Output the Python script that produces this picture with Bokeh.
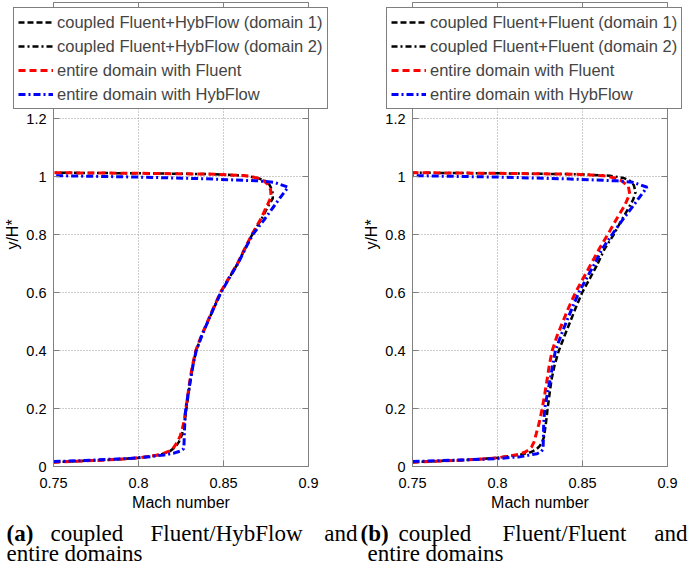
import math
from bokeh.plotting import figure
from bokeh.models import Legend, LegendItem, FixedTicker, Range1d, LinearAxis, Label
from bokeh.layouts import row
from bokeh.embed import file_html
from bokeh.resources import INLINE

# ---------------- data ----------------
x_ticks = [0.75, 0.8, 0.85, 0.9]
x_tick_labels = ["0.75", "0.8", "0.85", "0.9"]
y_ticks = [0, 0.2, 0.4, 0.6, 0.8, 1.0, 1.2, 1.4]
y_tick_labels = ["0", "0.2", "0.4", "0.6", "0.8", "1", "1.2", "1.4"]
x_label = "Mach number"
y_label = "y/H*"

# panel (a)
a_dom1_y = [0.015, 0.018, 0.021, 0.025, 0.030, 0.036, 0.043, 0.053, 0.066, 0.084, 0.105, 0.13, 0.16, 0.20,
            0.25, 0.30, 0.35, 0.40, 0.45, 0.50, 0.55, 0.60, 0.65, 0.70]
a_dom1_x = [0.750, 0.762, 0.776, 0.789, 0.800, 0.808, 0.814, 0.8185, 0.8215, 0.8237, 0.8253, 0.8264, 0.8273, 0.8282,
            0.8294, 0.8306, 0.8320, 0.8339, 0.8371, 0.8408, 0.8446, 0.8484, 0.8533, 0.8584]
a_dom2_y = [0.70, 0.75, 0.80, 0.85, 0.90, 0.925, 0.95, 0.97, 0.985, 0.995, 1.003, 1.008, 1.011, 1.013]
a_dom2_x = [0.8584, 0.8626, 0.8669, 0.8720, 0.8765, 0.8790, 0.8788, 0.8772, 0.8745, 0.870, 0.862, 0.845, 0.80, 0.75]
a_flu_y = [0.015, 0.018, 0.021, 0.025, 0.030, 0.036, 0.043, 0.053, 0.066, 0.084, 0.105, 0.13, 0.16, 0.20,
           0.25, 0.30, 0.35, 0.40, 0.45, 0.50, 0.55, 0.60, 0.65, 0.70, 0.75, 0.80, 0.85, 0.90, 0.93, 0.955,
           0.975, 0.99, 1.002, 1.008, 1.011, 1.013]
a_flu_x = [0.750, 0.762, 0.776, 0.789, 0.800, 0.808, 0.814, 0.818, 0.8208, 0.8228, 0.8245, 0.8258, 0.8269, 0.8279,
           0.8291, 0.8303, 0.8318, 0.8337, 0.8369, 0.8406, 0.8443, 0.8482, 0.8531, 0.8582, 0.8624, 0.8667, 0.8716,
           0.8757, 0.8780, 0.8777, 0.8758, 0.8725, 0.865, 0.845, 0.80, 0.75]
a_hyb_y = [0.017, 0.020, 0.024, 0.028, 0.034, 0.040, 0.046, 0.053, 0.061, 0.08, 0.12, 0.16, 0.20, 0.25, 0.30,
           0.35, 0.40, 0.45, 0.50, 0.55, 0.60, 0.65, 0.70, 0.75, 0.80, 0.85, 0.90, 0.93, 0.963, 0.980, 0.985,
           0.992, 0.998, 1.003]
a_hyb_x = [0.750, 0.765, 0.780, 0.795, 0.807, 0.815, 0.8208, 0.8245, 0.8265, 0.8268, 0.8270, 0.8273, 0.8278,
           0.8292, 0.8306, 0.8321, 0.8340, 0.8372, 0.8408, 0.8446, 0.8485, 0.8534, 0.8585, 0.8627, 0.8672, 0.8738,
           0.8800, 0.8837, 0.8880, 0.8796, 0.870, 0.840, 0.800, 0.750]

# panel (b)
b_dom1_y = [0.015, 0.018, 0.021, 0.025, 0.030, 0.036, 0.041, 0.049, 0.058, 0.067, 0.08, 0.101, 0.15, 0.20,
            0.25, 0.30, 0.35, 0.40, 0.45, 0.50, 0.55, 0.60, 0.65, 0.70]
b_dom1_x = [0.750, 0.762, 0.776, 0.789, 0.800, 0.807, 0.8135, 0.8194, 0.8225, 0.8243, 0.8260, 0.8273, 0.8285,
            0.8295, 0.8306, 0.8318, 0.8336, 0.8361, 0.8394, 0.8428, 0.8462, 0.8498, 0.8545, 0.8590]
b_dom2_y = [0.70, 0.75, 0.80, 0.85, 0.883, 0.92, 0.946, 0.970, 0.985, 0.995, 1.003, 1.008, 1.011, 1.013]
b_dom2_x = [0.8590, 0.8630, 0.8684, 0.8730, 0.8763, 0.8798, 0.8812, 0.8802, 0.8780, 0.874, 0.866, 0.845, 0.80, 0.75]
b_flu_y = [0.015, 0.018, 0.021, 0.025, 0.030, 0.036, 0.042, 0.049, 0.058, 0.067, 0.085, 0.113, 0.15, 0.20,
           0.25, 0.30, 0.35, 0.40, 0.45, 0.50, 0.55, 0.60, 0.65, 0.70, 0.75, 0.80, 0.85, 0.90, 0.94, 0.965,
           0.984, 0.995, 1.003, 1.008, 1.011, 1.013]
b_flu_x = [0.750, 0.762, 0.776, 0.789, 0.800, 0.807, 0.8125, 0.8160, 0.8185, 0.8200, 0.8215, 0.8228, 0.8245,
           0.8263, 0.8278, 0.8292, 0.8305, 0.8322, 0.8350, 0.8385, 0.8420, 0.8459, 0.8505, 0.8552, 0.8598, 0.8649,
           0.8697, 0.8748, 0.8778, 0.8770, 0.8733, 0.869, 0.862, 0.845, 0.80, 0.75]
b_hyb_y = [0.017, 0.020, 0.023, 0.027, 0.034, 0.044, 0.052, 0.060, 0.10, 0.15, 0.20, 0.25, 0.30, 0.35, 0.40,
           0.45, 0.50, 0.55, 0.60, 0.65, 0.70, 0.75, 0.80, 0.85, 0.90, 0.93, 0.963, 0.980, 0.985, 0.992, 0.998, 1.003]
b_hyb_x = [0.750, 0.765, 0.782, 0.800, 0.8135, 0.8233, 0.8258, 0.8268, 0.8270, 0.8272, 0.8278, 0.8293, 0.8310,
           0.8325, 0.8341, 0.8372, 0.8406, 0.8442, 0.8478, 0.8525, 0.8572, 0.8616, 0.8674, 0.8735, 0.8800, 0.8837,
           0.8880, 0.8796, 0.870, 0.840, 0.800, 0.750]

a_labels = ["coupled Fluent+HybFlow (domain 1)", "coupled Fluent+HybFlow (domain 2)",
            "entire domain with Fluent", "entire domain with HybFlow"]
b_labels = ["coupled Fluent+Fluent (domain 1)", "coupled Fluent+Fluent (domain 2)",
            "entire domain with Fluent", "entire domain with HybFlow"]
a_caption1 = ["(a)", "coupled", "Fluent/HybFlow", "and"]
b_caption1 = ["(b)", "coupled", "Fluent/Fluent", "and"]
caption2 = "entire domains"

# ---------------- layout constants (page pixels; Bokeh's page has no body margin) ----------------
FIG_H = 568
PAGE_TOP = 0
FRAME_BOTTOM = 466
PX_PER_X = 1700.0
PX_PER_Y = 290.0
X_MIN, X_MAX = 0.75, 0.9
Y_TOP = 1.6
AX_COL = "#808080"
SANS = "Liberation Sans"
SERIF = "Liberation Serif"
CAP1_BASE = 533
CAP2_BASE = 553

styles = [
    dict(line_color="black", line_width=2.5, line_dash="6 3"),
    dict(line_color="black", line_width=2.5, line_dash="6 3 2 3"),
    dict(line_color="#ff0000", line_width=3, line_dash="7 4"),
    dict(line_color="#0000ff", line_width=3, line_dash="7 3 2 3"),
]


def make_panel(fig_left, width, axis_left, series, labels, legend_left, cap_words, cap_pos, cap2_x):
    bottom = PAGE_TOP + FIG_H
    y_start = -(bottom - FRAME_BOTTOM) / PX_PER_Y
    y_end = (FRAME_BOTTOM - PAGE_TOP) / PX_PER_Y
    x_start = X_MIN - (axis_left - fig_left) / PX_PER_X
    x_end = x_start + width / PX_PER_X
    p = figure(width=width, height=FIG_H, x_range=Range1d(x_start, x_end), y_range=Range1d(y_start, y_end),
               output_backend="svg", toolbar_location=None,
               min_border_left=0, min_border_right=0, min_border_top=0, min_border_bottom=0)
    p.outline_line_color = None
    p.background_fill_color = "white"
    p.border_fill_color = "white"

    xa = p.xaxis[0]
    ya = p.yaxis[0]
    xt = FixedTicker(ticks=x_ticks)
    yt = FixedTicker(ticks=y_ticks)
    xa.ticker = xt
    ya.ticker = yt
    xa.fixed_location = 0
    ya.fixed_location = X_MIN
    xa.bounds = (X_MIN, X_MAX)
    ya.bounds = (0, Y_TOP)
    xa.major_label_overrides = dict(zip(x_ticks, x_tick_labels))
    ya.major_label_overrides = dict(zip(y_ticks, y_tick_labels))
    for ax in (xa, ya):
        ax.major_tick_in = 6
        ax.major_tick_out = 0
        ax.minor_tick_line_color = None
        ax.axis_line_color = AX_COL
        ax.major_tick_line_color = AX_COL
        ax.major_label_text_font = SANS
        ax.major_label_text_font_size = "14.5px"
        ax.major_label_text_color = "black"
        ax.axis_label_text_font = SANS
        ax.axis_label_text_font_size = "16px"
        ax.axis_label_text_font_style = "normal"
        ax.axis_label_text_color = "black"
    xa.axis_label = x_label
    ya.axis_label = y_label
    xa.major_label_standoff = 11
    xa.axis_label_standoff = 3
    ya.major_label_standoff = 7
    ya.axis_label_standoff = 2

    # frame lines on the right and top
    p.add_layout(LinearAxis(ticker=FixedTicker(ticks=[]), fixed_location=X_MAX, bounds=(0, Y_TOP),
                            axis_line_color=AX_COL, minor_tick_line_color=None), "right")
    p.add_layout(LinearAxis(ticker=FixedTicker(ticks=[]), fixed_location=Y_TOP, bounds=(X_MIN, X_MAX),
                            axis_line_color=AX_COL, minor_tick_line_color=None), "above")

    p.xgrid[0].ticker = xt
    p.ygrid[0].ticker = yt
    p.xgrid[0].bounds = (X_MIN, X_MAX)
    p.ygrid[0].bounds = (0, Y_TOP)
    p.xgrid[0].cross_bounds = (0, Y_TOP)
    p.ygrid[0].cross_bounds = (X_MIN, X_MAX)
    for g in (p.xgrid[0], p.ygrid[0]):
        g.grid_line_color = "#9a9a9a"
        g.grid_line_dash = "1 2"
        g.grid_line_width = 1

    # inward ticks on the right and top edges
    p.ray(x=[X_MAX] * len(y_ticks), y=y_ticks, length=6, length_units="screen",
          angle=math.pi, line_color=AX_COL, line_width=1)
    p.ray(x=x_ticks, y=[Y_TOP] * len(x_ticks), length=6, length_units="screen",
          angle=-math.pi / 2, line_color=AX_COL, line_width=1)

    rends = []
    for (xs, ys), st in zip(series, styles):
        rends.append(p.line(xs, ys, **st))

    leg = Legend(items=[LegendItem(label=l, renderers=[r]) for l, r in zip(labels, rends)],
                 orientation="vertical",
                 location=(legend_left - fig_left, bottom - 109),
                 border_line_color="black", border_line_width=1,
                 background_fill_color="white", background_fill_alpha=1,
                 label_text_font=SANS, label_text_font_size="16.5px",
                 label_height=20, glyph_height=20, glyph_width=35,
                 label_standoff=4, padding=4, spacing=4, margin=0)
    p.add_layout(leg)

    for i, (w, xpos) in enumerate(zip(cap_words, cap_pos)):
        p.add_layout(Label(x=xpos - fig_left, y=bottom - CAP1_BASE, x_units="screen", y_units="screen", text=w,
                           text_font=SERIF, text_font_size="23px",
                           text_font_style="bold" if i == 0 else "normal",
                           text_align="right" if i == len(cap_words) - 1 else "left",
                           text_baseline="alphabetic", text_color="black"))
    p.add_layout(Label(x=cap2_x - fig_left, y=bottom - CAP2_BASE, x_units="screen", y_units="screen",
                       text=caption2, text_font=SERIF, text_font_size="23px", text_align="left",
                       text_baseline="alphabetic", text_color="black"))
    return p


pa = make_panel(0, 358, 53,
                [(a_dom1_x, a_dom1_y), (a_dom2_x, a_dom2_y), (a_flu_x, a_flu_y), (a_hyb_x, a_hyb_y)],
                a_labels, 13, a_caption1, [6, 50, 150, 357], 6)
pb = make_panel(358, 330, 412,
                [(b_dom1_x, b_dom1_y), (b_dom2_x, b_dom2_y), (b_flu_x, b_flu_y), (b_hyb_x, b_hyb_y)],
                b_labels, 386, b_caption1, [360, 398, 502, 687], 367)

layout = row(pa, pb, spacing=0)
open("out.html", "w").write(file_html(layout, INLINE))
